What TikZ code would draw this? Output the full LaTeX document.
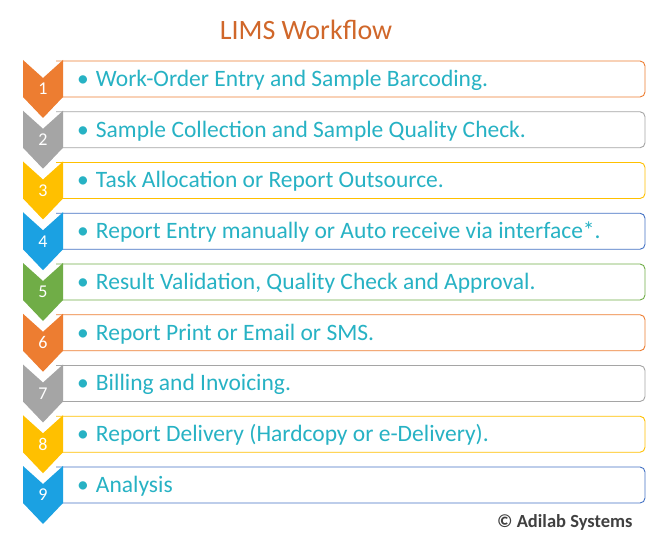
\documentclass[tikz,border=0pt]{standalone}
\usepackage{fontspec}
\setmainfont{Carlito}
\definecolor{corange}{HTML}{ED7D31}
\definecolor{cgray}{HTML}{A5A5A5}
\definecolor{cgold}{HTML}{FFC000}
\definecolor{cblue}{HTML}{1BA1E2}
\definecolor{cdblue}{HTML}{4472C4}
\definecolor{cgreen}{HTML}{70AD47}
\definecolor{cteal}{HTML}{27B2C4}
\definecolor{ctitle}{HTML}{D0672A}
\begin{document}
\begin{tikzpicture}[x=1pt,y=-1pt,
  itemtext/.style={anchor=west,text=cteal,font=\fontsize{23.5}{26}\selectfont,inner sep=0},
  numtext/.style={text=white,font=\fontsize{18}{20}\selectfont,inner sep=0}]
\useasboundingbox (0,0) rectangle (656,540);
\node[text=ctitle,font=\fontsize{28}{32}\selectfont] (title) at (306,30) {LIMS Workflow};
\foreach \i/\cf/\cb/\t in {
 1/corange/corange/Work-Order Entry and Sample Barcoding.,
 2/cgray/cgray/Sample Collection and Sample Quality Check.,
 3/cgold/cgold/Task Allocation or Report Outsource.,
 4/cblue/cdblue/Report Entry manually or Auto receive via interface*.,
 5/cgreen/cgreen/{Result Validation, Quality Check and Approval.},
 6/corange/corange/Report Print or Email or SMS.,
 7/cgray/cgray/Billing and Invoicing.,
 8/cgold/cgold/Report Delivery (Hardcopy or e-Delivery).,
 9/cblue/cdblue/Analysis}{
  \pgfmathsetmacro{\yy}{61+(\i-1)*50.75}
  \draw[\cb,line width=0.9pt,fill=white,rounded corners=5pt]
    (56,\yy) -- (645,\yy) -- (645,\yy+36) -- (56,\yy+36);
  \fill[\cf] (23,\yy-1) -- (43,\yy+17) -- (63,\yy-1) -- (63,\yy+36) -- (43,\yy+57) -- (23,\yy+36) -- cycle;
  \node[numtext] (n\i) at (43,\yy+28) {\i};
  \node[itemtext] (t\i) at (77,\yy+19) {\textbullet\hspace{0.3em}\t};
}
\node[anchor=east,text=black!75,font=\bfseries\fontsize{18.5}{20}\selectfont] (copy) at (636,522) {© Adilab Systems};
\end{tikzpicture}
\end{document}
